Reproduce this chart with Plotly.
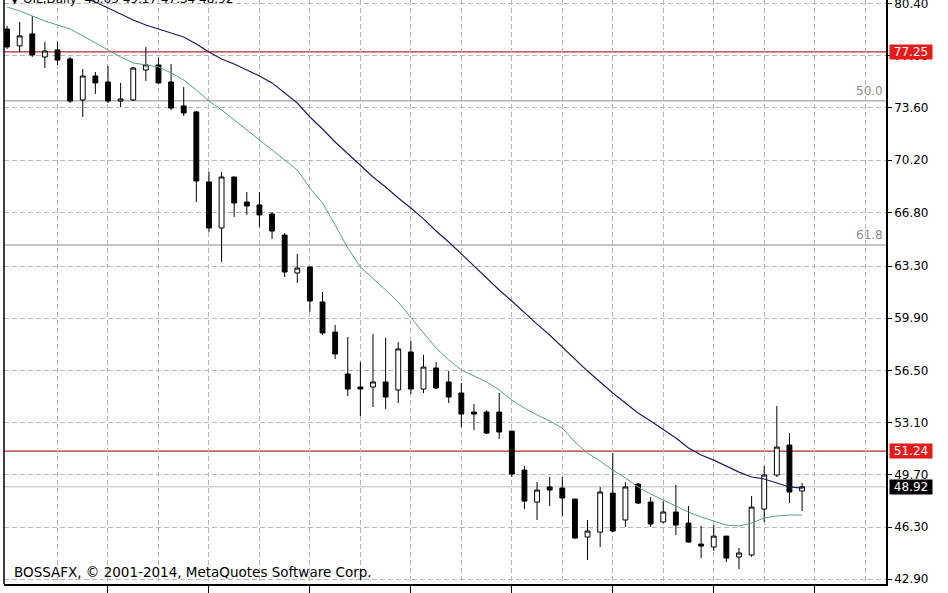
import plotly.graph_objects as go

# ---- data (daily OIL candles) ----
opens = [78.74, 77.64, 78.42, 76.92, 77.38, 76.79, 74.12, 75.68, 75.29, 74.05,
         74.12, 76.07, 76.40, 75.29, 73.73, 73.34, 68.78, 65.78, 69.10, 67.47,
         67.28, 66.69, 65.32, 62.85, 63.24, 60.96, 59.00, 56.27, 55.42, 55.42,
         55.75, 55.23, 57.70, 55.29, 56.66, 55.75, 55.03, 53.79, 53.79, 53.79,
         52.55, 50.01, 47.93, 48.91, 48.84, 48.12, 45.65, 45.97, 48.51, 46.76,
         49.10, 47.93, 46.63, 47.28, 46.56, 45.19, 45.00, 45.71, 44.35, 44.48,
         47.47, 49.69, 51.64, 48.65]
highs = [78.94, 79.20, 79.59, 77.90, 77.90, 76.92, 76.14, 75.94, 76.33, 75.23,
         76.27, 77.57, 76.85, 76.46, 74.96, 73.40, 69.43, 69.43, 69.12, 68.12,
         68.12, 66.82, 65.45, 64.09, 63.26, 61.61, 59.46, 58.68, 57.05, 58.87,
         58.61, 58.35, 58.42, 57.51, 57.05, 56.46, 55.68, 54.31, 53.92, 55.03,
         52.58, 50.27, 49.23, 49.56, 49.56, 48.14, 46.76, 48.91, 51.12, 49.23,
         49.17, 48.25, 47.99, 49.04, 47.67, 46.37, 46.43, 45.73, 44.93, 48.32,
         50.27, 54.18, 52.42, 49.17]
lows = [77.44, 77.24, 76.92, 76.20, 76.40, 73.92, 73.01, 74.51, 73.92, 73.66,
        74.05, 75.36, 75.16, 73.46, 73.08, 67.47, 65.52, 63.56, 66.50, 66.63,
        65.84, 65.06, 62.59, 62.20, 60.31, 58.81, 57.24, 54.83, 53.53, 54.12,
        53.99, 54.38, 54.96, 55.03, 55.29, 54.38, 52.81, 52.62, 52.36, 52.03,
        49.56, 47.47, 46.76, 47.67, 47.02, 45.56, 44.15, 45.00, 45.97, 46.30,
        47.80, 46.30, 46.56, 45.78, 45.30, 44.28, 44.74, 44.02, 43.56, 44.35,
        46.63, 49.56, 47.86, 47.34]
closes = [77.57, 78.29, 77.05, 77.31, 76.72, 74.05, 75.68, 75.23, 74.05, 74.18,
          76.20, 76.40, 75.23, 73.59, 73.27, 68.84, 65.78, 69.10, 67.41, 67.21,
          66.63, 65.58, 62.91, 63.17, 61.02, 58.94, 57.57, 55.29, 55.29, 55.75,
          54.77, 57.90, 55.29, 56.72, 55.36, 54.77, 53.66, 53.66, 52.42, 52.49,
          49.75, 47.99, 48.71, 48.71, 48.19, 45.58, 46.04, 48.58, 46.04, 48.91,
          47.86, 46.50, 47.28, 46.43, 45.32, 45.06, 45.71, 44.28, 44.61, 47.60,
          49.69, 51.51, 48.58, 48.92]
ma_fast = [80.18, 79.92, 79.59, 79.26, 79.00, 78.74, 78.29, 77.83, 77.38, 76.92,
           76.53, 76.40, 76.27, 75.88, 75.42, 74.77, 74.05, 73.47, 72.81, 72.16,
           71.51, 70.86, 70.21, 69.56, 68.38, 67.41, 65.97, 64.48, 63.24, 62.52,
           61.74, 60.96, 59.92, 58.94, 57.96, 57.18, 56.53, 56.14, 55.75, 55.23,
           54.57, 54.05, 53.60, 53.21, 52.75, 51.84, 51.12, 50.60, 50.01, 49.49,
           48.91, 48.45, 48.06, 47.67, 47.28, 46.95, 46.69, 46.43, 46.37, 46.56,
           46.89, 47.02, 47.08, 47.08]
ma_slow = [83.17, 82.78, 82.39, 82.00, 81.61, 81.22, 80.83, 80.50, 80.11, 79.72,
           79.33, 79.00, 78.74, 78.48, 78.22, 77.77, 77.24, 76.79, 76.46, 76.07,
           75.68, 75.23, 74.57, 73.92, 73.01, 72.23, 71.38, 70.60, 69.82, 69.10,
           68.45, 67.73, 67.08, 66.37, 65.58, 64.87, 64.09, 63.30, 62.52, 61.74,
           61.02, 60.24, 59.52, 58.81, 58.03, 57.24, 56.46, 55.75, 55.03, 54.38,
           53.73, 53.21, 52.68, 52.10, 51.45, 50.99, 50.66, 50.27, 49.88, 49.56,
           49.43, 49.17, 48.91, 48.84]
bars = list(range(len(opens)))

y_ticks = [42.90, 46.30, 49.70, 53.10, 56.50, 59.90, 63.30, 66.80, 70.20, 73.60, 77.00, 80.40]
red_levels = [77.25, 51.24]
fib_levels = [74.06, 64.67]
fib_labels = ["50.0", "61.8"]
bid_price = 48.92
header = "▼ OIL,Daily  48.65 49.17 47.34 48.92"
footer = "BOSSAFX, © 2001-2014, MetaQuotes Software Corp."

FONT = "DejaVu Sans"
GRID = "#b8b8b8"

fig = go.Figure()

# horizontal levels (drawn under the candles)
for lv in fib_levels:
    fig.add_shape(type="line", xref="paper", x0=0, x1=1, yref="y", y0=lv, y1=lv,
                  line=dict(color="#8c8c8c", width=1), layer="below")
fig.add_shape(type="line", xref="paper", x0=0, x1=1, yref="y", y0=bid_price, y1=bid_price,
              line=dict(color="#bdbdbd", width=1), layer="below")
for lv in red_levels:
    fig.add_shape(type="line", xref="paper", x0=0, x1=1, yref="y", y0=lv, y1=lv,
                  line=dict(color="#b22a2a", width=1.3), layer="below")

fig.add_trace(go.Scatter(x=bars, y=ma_fast, mode="lines",
                         line=dict(color="#5e9c8c", width=1), hoverinfo="skip"))
fig.add_trace(go.Scatter(x=bars, y=ma_slow, mode="lines",
                         line=dict(color="#1c1c5e", width=1.2), hoverinfo="skip"))

fig.add_trace(go.Candlestick(
    x=bars, open=opens, high=highs, low=lows, close=closes,
    increasing=dict(line=dict(color="black", width=1), fillcolor="white"),
    decreasing=dict(line=dict(color="black", width=1), fillcolor="black"),
    whiskerwidth=0, hoverinfo="skip"))

# left border
fig.add_shape(type="line", xref="paper", yref="paper", x0=0, x1=0, y0=0, y1=1,
              line=dict(color="black", width=1.5))

# right axis price boxes
for lv in red_levels:
    fig.add_annotation(xref="paper", x=1.003, xanchor="left", yref="y", y=lv, yanchor="middle",
                       text=f"{lv:.2f}", showarrow=False, bgcolor="#e41c1c",
                       font=dict(color="white", size=12, family=FONT),
                       width=42, height=14, borderpad=0)
fig.add_annotation(xref="paper", x=1.003, xanchor="left", yref="y", y=bid_price, yanchor="middle",
                   text=f"{bid_price:.2f}", showarrow=False, bgcolor="black",
                   font=dict(color="white", size=12, family=FONT),
                   width=42, height=14, borderpad=0)
for lv, lab in zip(fib_levels, fib_labels):
    fig.add_annotation(xref="paper", x=0.9985, xanchor="right", yref="y", y=lv, yanchor="bottom",
                       yshift=1, text=lab, showarrow=False,
                       font=dict(color="#8c8c8c", size=12, family=FONT))

fig.add_annotation(xref="paper", x=0.004, xanchor="left", yref="paper", y=1, yanchor="middle",
                   yshift=1, text=header, showarrow=False,
                   font=dict(color="black", size=12, family=FONT))
fig.add_annotation(xref="paper", x=0.009, xanchor="left", yref="y", y=43.34, yanchor="middle",
                   text=footer, showarrow=False,
                   font=dict(color="black", size=13.5, family=FONT))

fig.update_layout(
    width=948, height=593,
    margin=dict(l=4, r=62, t=0, b=9),
    paper_bgcolor="white", plot_bgcolor="white",
    showlegend=False,
    boxgap=0.45,
    font=dict(family=FONT, size=12, color="black"),
)
fig.update_xaxes(
    automargin=False,
    range=[-0.24, 69.65], rangeslider=dict(visible=False),
    tickvals=list(range(8, 70, 8)), showticklabels=False,
    ticks="outside", ticklen=9, tickcolor="black", tickwidth=1,
    showgrid=True, gridcolor=GRID, griddash="5px,3px", gridwidth=1,
    minor=dict(tickvals=list(range(4, 70, 8)), showgrid=True, gridcolor=GRID,
               griddash="5px,3px", gridwidth=1, ticks=""),
    showline=True, linecolor="black", linewidth=1.5, zeroline=False,
)
fig.update_yaxes(
    automargin=False, ticklabeloverflow="allow",
    side="right", range=[42.59, 80.63],
    tickvals=y_ticks, ticktext=[f"{v:.2f}" for v in y_ticks],
    ticks="outside", ticklen=4, tickcolor="black",
    tickfont=dict(size=12, family=FONT, color="black"),
    showgrid=True, gridcolor=GRID, griddash="5px,3px", gridwidth=1,
    showline=True, linecolor="black", linewidth=1.5, zeroline=False,
)

fig.write_html("out.html", config={"displayModeBar": False},
               post_script="document.body.style.margin='0';document.body.style.overflow='hidden';")
